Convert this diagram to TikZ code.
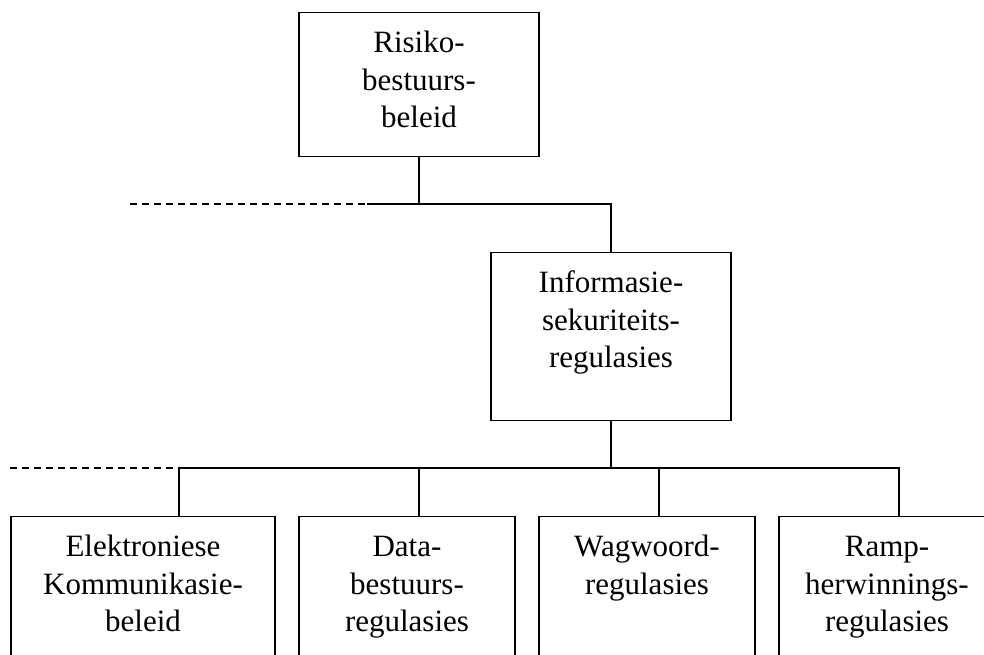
\documentclass[tikz,border=0pt]{standalone}
\usepackage{fontspec}
\setmainfont{Liberation Serif}
\usetikzlibrary{positioning}

\begin{document}
\begin{tikzpicture}[x=1pt,y=-1pt,line width=1.4pt,
	box/.style={draw, anchor=north, align=center, inner xsep=0pt, inner ysep=0pt,
		text height=40pt, font=\fontsize{31}{37.5}\selectfont},
	wide/.style={text width=240pt},
	narrow/.style={text width=216pt},
	dots/.style={dash pattern=on 7pt off 5pt, line width=1.2pt}]
	
	\useasboundingbox (0,0) rectangle (984,654);
	\clip (0,0) rectangle (984,654);
	
	\node (risk) [box, wide, text depth=104pt] at (419,12) {Risiko-\\bestuurs-\\beleid};
	\node (info) [box, wide, text depth=128pt] at (611,252) {Informasie-\\sekuriteits-\\regulasies};
	
	\node (ekb) [box, text width=264pt, text depth=200pt] at (143,516) {Elektroniese\\Kommunikasie-\\beleid};
	\node (dbr) [box, narrow, text depth=200pt] at (407,516) {Data-\\bestuurs-\\regulasies};
	\node (wwr) [box, narrow, text depth=200pt] at (647,516) {Wagwoord-\\regulasies};
	\node (rhr) [box, narrow, text depth=200pt] at (887,516) {Ramp-\\herwinnings-\\regulasies};
	
	\coordinate (d1) at (130,204);
	\coordinate (j1) at (367,204);
	\coordinate (d2) at (10,468);
	\coordinate (j2) at (179,468);
	\coordinate (t1) at (179,516);
	\coordinate (t2) at (419,516);
	\coordinate (t3) at (659,516);
	\coordinate (t4) at (899,516);
	
	\draw (risk.south) -- (risk.south |- j1);
	\draw (j1) -| (info.north);
	\draw [dots] (d1) -- (j1);
	
	\draw (info.south) -- (info.south |- j2);
	\draw (t1) -- (j2) -| (t4);
	\draw (t2) -- (t2 |- j2);
	\draw (t3) -- (t3 |- j2);
	\draw [dots] (d2) -- (j2);
\end{tikzpicture}
\end{document}
